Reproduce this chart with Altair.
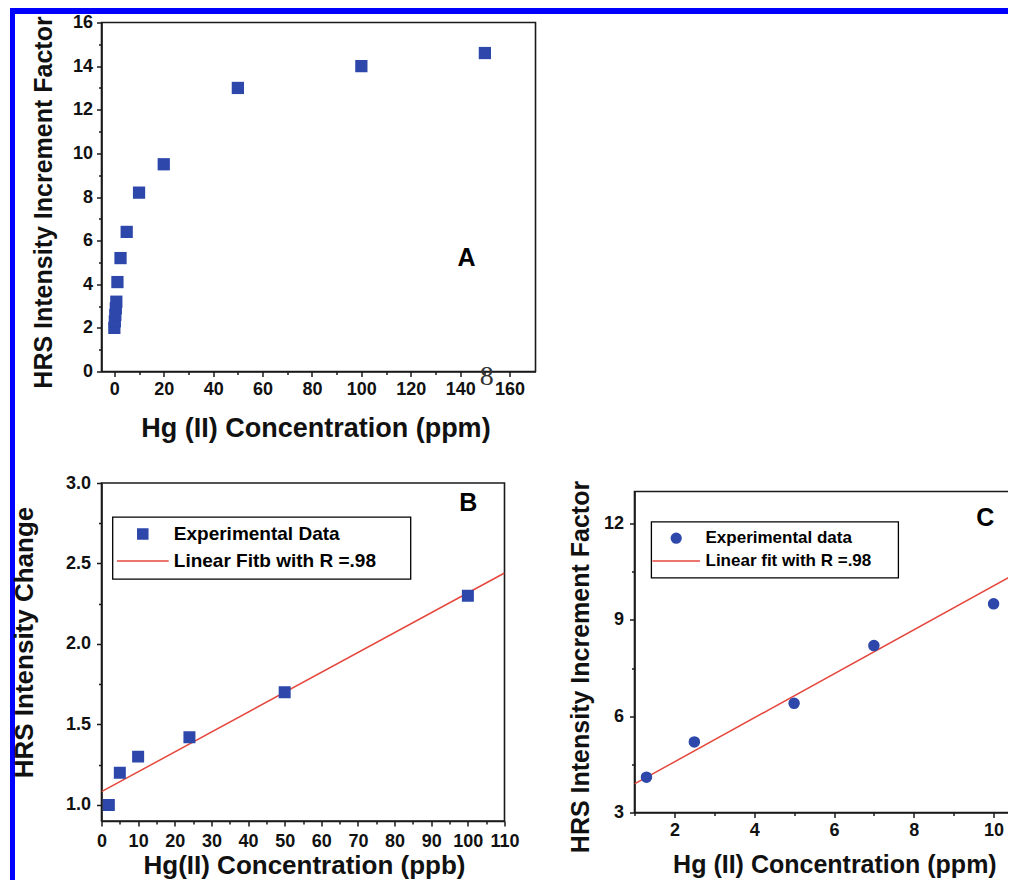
import altair as alt
import pandas as pd

# ---------------- data ----------------
a_conc = [0.0, 0.2, 0.4, 0.6, 0.8, 1.25, 2.5, 5, 10, 20, 50, 100, 150]
a_factor = [2.0, 2.3, 2.6, 2.9, 3.2, 4.1, 5.2, 6.4, 8.2, 9.5, 13.0, 14.0, 14.6]

b_conc = [2, 5, 10, 24, 50, 100]
b_change = [1.0, 1.2, 1.3, 1.42, 1.7, 2.3]
b_fit_x = [0, 110]
b_fit_y = [1.082, 2.441]

c_conc = [1.3, 2.5, 5, 7, 10]
c_factor = [4.1, 5.2, 6.4, 8.2, 9.5]
c_fit_x = [1.0, 11.0]
c_fit_y = [3.89, 10.75]

b_series = ["Experimental Data", "Linear Fitb with R =.98"]
c_series = ["Experimental data", "Linear fit with R =.98"]
panel_letters = ["A", "B", "C"]
artifact_text = ["8"]

a_xticks = list(range(0, 161, 10))
a_yticks = list(range(0, 17))
b_xticks = list(range(0, 111, 5))
b_yticks = [1.0, 1.25, 1.5, 1.75, 2.0, 2.25, 2.5, 2.75, 3.0]
c_xticks = list(range(1, 12))
c_yticks = [3, 4.5, 6, 7.5, 9, 10.5, 12]

# ---------------- styles ----------------
FONT = "Liberation Sans"
BLUE = "#2d47aa"
RED = "#e5473d"
FRAME = "#1a1a1a"
BORDER = "#0000ff"
NBSP = "\u00a0"
ZWSP = "\u200b"


def tick_axis(values, test, fmt, title, tx, ty, tsize, lsize, lpad, left):
    return alt.Axis(
        values=values,
        labelExpr=f"({test}) ? format(datum.value, '{fmt}') : ''",
        tickSize={"condition": {"test": test, "value": 5}, "value": 3},
        title=title,
        titleX=tx,
        titleY=ty,
        titleFontSize=tsize,
        titleAngle=270 if left else 0,
        titleAlign="center",
        titleBaseline="middle",
        labelFontSize=lsize,
        labelPadding=lpad,
    )


def text_layer(txt, px, py, size=25, font=FONT, weight="bold", color="black"):
    return alt.Chart(pd.DataFrame({"t": [txt]})).mark_text(
        fontSize=size, fontWeight=weight, font=font, align="center",
        baseline="middle", color=color
    ).encode(text="t:N", x=alt.value(px), y=alt.value(py))


one = pd.DataFrame({"k": [0]})

# ---------------- panel A ----------------
A_W, A_H = 434, 349
dfA = pd.DataFrame({"conc": a_conc, "factor": a_factor})
xA = alt.X("conc:Q", scale=alt.Scale(domain=[-5.2, 170.5], nice=False, zero=False),
           axis=tick_axis(a_xticks, "datum.value % 20 === 0", "d",
                          "Hg (II) Concentration (ppm)", 213.9, 56.5, 27, 18, 3.7, False))
yA = alt.Y("factor:Q", scale=alt.Scale(domain=[0, 16], nice=False, zero=False),
           axis=tick_axis(a_yticks, "datum.value % 2 === 0", "d",
                          "HRS Intensity Increment Factor", -58.5, 179.5, 25, 18, 4, True))
ptsA = alt.Chart(dfA).mark_square(size=150, color=BLUE, opacity=1).encode(x=xA, y=yA)

border_v = alt.Chart(one).mark_rule(color=BORDER, strokeWidth=5).encode(
    x=alt.value(-89), y=alt.value(-11.5), y2=alt.value(900))
border_h = alt.Chart(one).mark_rule(color=BORDER, strokeWidth=6, strokeCap="square").encode(
    y=alt.value(-11.5), x=alt.value(-88.5), x2=alt.value(930))

panelA = alt.layer(
    ptsA,
    text_layer(panel_letters[0], 365.1, 235.8),
    text_layer(artifact_text[0], 385.2, 354.2, size=28, font="Liberation Serif",
               weight="normal", color="#333"),
    border_h,
    border_v,
).properties(width=A_W, height=A_H)

# ---------------- panel B ----------------
B_W, B_H = 403, 338
dfB = pd.DataFrame({"conc": b_conc, "change": b_change, "series": b_series[0]})
dfBfit = pd.DataFrame({"conc": b_fit_x, "change": b_fit_y})
xB = alt.X("conc:Q", scale=alt.Scale(domain=[0, 110], nice=False, zero=False),
           axis=tick_axis(b_xticks, "datum.value % 10 === 0", "d",
                          "Hg(II) Concentration (ppb)", 202.5, 44.5, 26, 18, 6.7, False))
yB = alt.Y("change:Q", scale=alt.Scale(domain=[0.9, 3.0], nice=False, zero=False),
           axis=tick_axis(b_yticks, "abs(datum.value * 2 - round(datum.value * 2)) < 0.001",
                          ".1f", "HRS Intensity Change", -77.5, 159, 26, 18, 6, True))
legB = alt.Legend(
    title=None, orient="none", legendX=11, legendY=34, padding=7.5, rowPadding=7,
    symbolOffset=13.3, labelOffset=21.5, strokeColor="black", fillColor="white",
    labelFontSize=19, labelFontWeight="bold", labelFont=FONT, labelColor="black",
    labelLimit=600, symbolSize=100, symbolStrokeWidth=1.5,
    labelExpr="datum.label + '" + NBSP * 5 + ZWSP + "'",
)
fitB = alt.Chart(dfBfit).mark_line(color=RED, strokeWidth=1.5, clip=True).encode(x=xB, y=yB)
ptsB = alt.Chart(dfB).mark_point(filled=True, opacity=1, size=110, strokeWidth=1.5).encode(
    x=xB, y=yB,
    fill=alt.Fill("series:N", scale=alt.Scale(domain=b_series, range=[BLUE, RED]), legend=legB),
    stroke=alt.Stroke("series:N", scale=alt.Scale(domain=b_series, range=[BLUE, RED]), legend=legB),
    shape=alt.Shape("series:N", scale=alt.Scale(domain=b_series, range=["square", "M-5.17,0H5.17"]),
                    legend=legB),
)
panelB = alt.layer(fitB, ptsB, text_layer(panel_letters[1], 366.8, 20.3)).properties(
    width=B_W, height=B_H)

# ---------------- panel C ----------------
C_W, C_H = 399, 321
dfC = pd.DataFrame({"conc": c_conc, "factor": c_factor, "series": c_series[0]})
dfCfit = pd.DataFrame({"conc": c_fit_x, "factor": c_fit_y})
xC = alt.X("conc:Q", scale=alt.Scale(domain=[1, 11], nice=False, zero=False),
           axis=tick_axis(c_xticks, "datum.value % 2 === 0", "d",
                          "Hg (II) Concentration (ppm)", 199.9, 52, 25, 18, 4, False))
yC = alt.Y("factor:Q", scale=alt.Scale(domain=[3, 13], nice=False, zero=False),
           axis=tick_axis(c_yticks, "datum.value % 3 === 0", "d",
                          "HRS Intensity Increment Factor", -54.3, 175, 25, 18, 6, True))
legC = alt.Legend(
    title=None, orient="none", legendX=16.7, legendY=30.2, padding=8, rowPadding=4.7,
    symbolOffset=8.5, labelOffset=20.8, strokeColor="black", fillColor="white",
    labelFontSize=17, labelFontWeight="bold", labelFont=FONT, labelColor="black",
    labelLimit=600, symbolSize=95, symbolStrokeWidth=1.5,
    labelExpr="datum.label + '" + NBSP * 4 + ZWSP + "'",
)
fitC = alt.Chart(dfCfit).mark_line(color=RED, strokeWidth=1.5, clip=True).encode(x=xC, y=yC)
ptsC = alt.Chart(dfC).mark_point(filled=True, opacity=1, size=100, strokeWidth=1.5).encode(
    x=xC, y=yC,
    fill=alt.Fill("series:N", scale=alt.Scale(domain=c_series, range=[BLUE, RED]), legend=legC),
    stroke=alt.Stroke("series:N", scale=alt.Scale(domain=c_series, range=[BLUE, RED]), legend=legC),
    shape=alt.Shape("series:N", scale=alt.Scale(domain=c_series, range=["circle", "M-4.88,0H4.88"]),
                    legend=legC),
)
panelC = alt.layer(fitC, ptsC, text_layer(panel_letters[2], 350.7, 26)).properties(
    width=C_W, height=C_H)

# ---------------- layout ----------------
bottom = alt.hconcat(panelB, panelC, spacing=130, bounds="flush", center=True).resolve_scale(
    fill="independent", stroke="independent", shape="independent")
chart = alt.vconcat(panelA, bottom, spacing=111.5, bounds="flush").resolve_scale(
    fill="independent", stroke="independent", shape="independent"
).properties(
    autosize=alt.AutoSizeParams(type="none"),
    padding={"left": 93.5, "top": 14.5, "right": 906.5, "bottom": 857.5},
    background="white",
).configure(font=FONT).configure_view(
    stroke=FRAME, strokeWidth=1.6
).configure_axis(
    domainColor=FRAME, domainWidth=1.6, tickColor=FRAME, tickWidth=1.5,
    labelFont=FONT, labelFontWeight="bold", labelColor="#111",
    titleFont=FONT, titleFontWeight="bold", titleColor="#111",
    grid=False, labelFlush=False, labelOverlap=False,
).configure_legend(strokeWidth=1.3)

chart.save("out.html", embed_options={"renderer": "svg", "actions": False})
